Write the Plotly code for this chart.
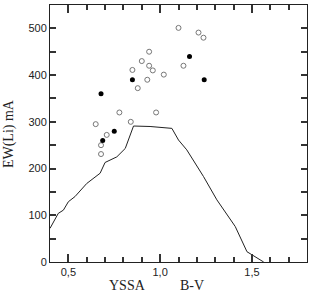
import plotly.graph_objects as go

# Model curve (B-V, EW(Li))
curve_bv = [0.40, 0.445, 0.473, 0.50, 0.536, 0.60, 0.673, 0.70, 0.764, 0.81, 0.855, 0.945, 1.064, 1.10, 1.145, 1.236, 1.309, 1.364, 1.409, 1.473, 1.50, 1.564]
curve_ew = [72, 104, 111, 129, 140, 168, 190, 213, 225, 243, 291, 290, 286, 261, 240, 183, 133, 101, 76, 22, 15, 0]

# Open circles
open_bv = [0.649, 0.678, 0.678, 0.709, 0.778, 0.84, 0.849, 0.878, 0.90, 0.93, 0.94, 0.94, 0.96, 0.978, 1.02, 1.10, 1.127, 1.209, 1.236]
open_ew = [295, 250, 231, 272, 320, 300, 411, 372, 430, 390, 450, 420, 410, 320, 401, 501, 420, 491, 480]

# Filled circles
fill_bv = [0.678, 0.687, 0.75, 0.849, 1.16, 1.24]
fill_ew = [360, 260, 280, 390, 440, 390]

x_tickvals = [0.5, 1.0, 1.5]
x_ticktext = ["0,5", "1,0", "1,5"]
x_minor = [0.6, 0.7, 0.8, 0.9, 1.1, 1.2, 1.3, 1.4, 1.6, 1.7]
y_tickvals = [0, 100, 200, 300, 400, 500]
y_minor = [50, 150, 250, 350, 450]

fig = go.Figure()
fig.add_trace(go.Scatter(x=curve_bv, y=curve_ew, mode="lines",
                         line=dict(color="#222222", width=1), showlegend=False))
fig.add_trace(go.Scatter(x=open_bv, y=open_ew, mode="markers",
                         marker=dict(symbol="circle-open", size=5, color="#777777", line=dict(width=1)),
                         showlegend=False))
fig.add_trace(go.Scatter(x=fill_bv, y=fill_ew, mode="markers",
                         marker=dict(symbol="circle", size=5, color="black"),
                         showlegend=False))

axis_common = dict(showgrid=False, zeroline=False, showline=True, linecolor="#222222", linewidth=1,
                   mirror="allticks", ticks="inside", tickcolor="#333333", tickwidth=2)

fig.update_xaxes(range=[0.4, 1.8], tickvals=x_tickvals, ticktext=x_ticktext, ticklen=8,
                 minor=dict(tickvals=x_minor, ticks="inside", ticklen=5, tickcolor="#333333", tickwidth=2),
                 **axis_common)
fig.update_yaxes(range=[0, 550], tickvals=y_tickvals, ticklen=6,
                 minor=dict(tickvals=y_minor, ticks="inside", ticklen=6, tickcolor="#333333", tickwidth=2),
                 **axis_common)

fig.add_annotation(text="YSSA", x=0.82, y=-0.09, xref="x", yref="paper", showarrow=False,
                   yanchor="middle", font=dict(family="Liberation Serif, Times New Roman", size=14, color="#222222"))
fig.add_annotation(text="B-V", x=1.175, y=-0.09, xref="x", yref="paper", showarrow=False,
                   yanchor="middle", font=dict(family="Liberation Serif, Times New Roman", size=14, color="#222222"))
fig.add_annotation(text="EW(Li) mA", x=-0.2, y=0.5, xref="paper", yref="paper", showarrow=False,
                   textangle=-90, font=dict(family="Liberation Serif, Times New Roman", size=14, color="#222222"))

fig.update_layout(width=311, height=295, margin=dict(l=50, r=4, t=5, b=33),
                  font=dict(family="Liberation Sans, Arial", size=11, color="#222222"),
                  plot_bgcolor="white", paper_bgcolor="white")
fig.write_html("out.html", post_script="document.body.style.margin='0';",
               config={"displayModeBar": False})
